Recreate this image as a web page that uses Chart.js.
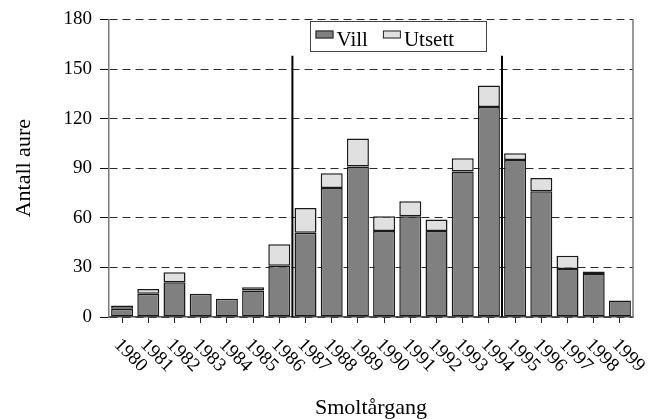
<!DOCTYPE html>
<html>
<head>
<meta charset="utf-8">
<script src="https://cdn.jsdelivr.net/npm/chart.js@4/dist/chart.umd.min.js"></script>
<style>
  html, body { margin: 0; padding: 0; background: #ffffff; }
  #wrap { width: 650px; height: 419px; position: relative; }
</style>
</head>
<body>
<div id="wrap"><canvas id="c"></canvas></div>
<script>
// Smolt year classes
const years = ['1980','1981','1982','1983','1984','1985','1986','1987','1988','1989',
               '1990','1991','1992','1993','1994','1995','1996','1997','1998','1999'];
// Wild trout per year class
const vill = [5, 14, 21, 14, 11, 16, 31, 51, 78, 91, 52, 61, 52, 88, 127, 95, 76, 29, 26, 10];
// Stocked trout per year class
const utsett = [2, 3, 6, null, null, 2, 13, 15, 9, 17, 9, 9, 7, 8, 13, 4, 8, 8, 1.5, null];
// Period boundaries: a divider is drawn between each pair of year classes
const periodBreaks = [['1986', '1987'], ['1994', '1995']];
const breakTop = 158;
// Value axis range
const yMin = 0, yMax = 180, yStep = 30;

const serif = '"Liberation Serif", "DejaVu Serif", serif';

// Legend box drawn inside the plot, near the top
const boxLegend = {
  id: 'boxLegend',
  afterDraw(chart) {
    const ctx = chart.ctx;
    const items = chart.data.datasets;
    ctx.save();
    const x0 = 310.5, y0 = 21.5, w = 176, h = 30;
    ctx.fillStyle = '#ffffff';
    ctx.fillRect(x0, y0, w, h);
    ctx.strokeStyle = '#444';
    ctx.lineWidth = 1;
    ctx.strokeRect(x0, y0, w, h);
    ctx.font = '21px ' + serif;
    ctx.textBaseline = 'alphabetic';
    ctx.textAlign = 'left';
    let x = x0 + 5;
    items.forEach((ds) => {
      ctx.fillStyle = ds.backgroundColor;
      ctx.fillRect(x, y0 + 9, 18, 8);
      ctx.strokeStyle = '#222';
      ctx.lineWidth = 1;
      ctx.strokeRect(x + 0.5, y0 + 9.5, 17, 7);
      ctx.fillStyle = '#000';
      ctx.fillText(ds.label, x + 21, y0 + 24);
      x += 21 + ctx.measureText(ds.label).width + 15;
    });
    ctx.restore();
  }
};

// Diagonal year labels under the axis, right border and period dividers
const decorations = {
  id: 'decorations',
  afterDatasetsDraw(chart) {
    const ctx = chart.ctx;
    const xs = chart.scales.x, ys = chart.scales.y;
    const area = chart.chartArea;
    ctx.save();
    // right frame line
    ctx.strokeStyle = '#777';
    ctx.lineWidth = 1.5;
    ctx.beginPath();
    ctx.moveTo(area.right, area.top);
    ctx.lineTo(area.right, area.bottom);
    ctx.stroke();
    // period dividers
    ctx.strokeStyle = '#000';
    ctx.lineWidth = 2;
    periodBreaks.forEach(([a, b]) => {
      const px = (xs.getPixelForValue(years.indexOf(a)) + xs.getPixelForValue(years.indexOf(b))) / 2;
      ctx.beginPath();
      ctx.moveTo(px, ys.getPixelForValue(breakTop));
      ctx.lineTo(px, ys.getPixelForValue(0));
      ctx.stroke();
    });
    ctx.restore();
  },
  afterDraw(chart) {
    const ctx = chart.ctx;
    const xs = chart.scales.x;
    const area = chart.chartArea;
    ctx.save();
    ctx.fillStyle = '#000';
    ctx.font = '19px ' + serif;
    ctx.textAlign = 'left';
    ctx.textBaseline = 'middle';
    years.forEach((label, i) => {
      const px = xs.getPixelForValue(i);
      ctx.save();
      ctx.translate(px - 5, area.bottom + 25);
      ctx.rotate(Math.PI / 4);
      ctx.fillText(label, 0, 0);
      ctx.restore();
    });
    ctx.restore();
  }
};

new Chart(document.getElementById('c'), {
  type: 'bar',
  data: {
    labels: years,
    datasets: [
      {
        label: 'Vill',
        data: vill,
        backgroundColor: '#808080',
        borderColor: '#1a1a1a',
        borderWidth: 1.5,
        borderSkipped: false,
        barPercentage: 0.84,
        categoryPercentage: 1.0
      },
      {
        label: 'Utsett',
        data: utsett,
        backgroundColor: '#e0e0e0',
        borderColor: '#1a1a1a',
        borderWidth: 1.5,
        borderSkipped: false,
        barPercentage: 0.84,
        categoryPercentage: 1.0
      }
    ]
  },
  options: {
    responsive: true,
    maintainAspectRatio: false,
    animation: false,
    layout: { padding: { top: 16, right: 17, left: 0, bottom: 0 } },
    plugins: {
      legend: { display: false },
      tooltip: { enabled: false }
    },
    scales: {
      x: {
        stacked: true,
        afterFit(scale) { scale.height = 102; },
        grid: {
          display: true,
          drawOnChartArea: false,
          offset: false,
          tickLength: 6,
          tickColor: '#222',
          lineWidth: 1
        },
        border: { display: true, color: '#555', width: 1.5 },
        ticks: { display: false },
        title: {
          display: true,
          text: 'Smoltårgang',
          color: '#000',
          font: { family: serif, size: 22, lineHeight: 1 },
          padding: { top: 0, bottom: 0 }
        }
      },
      y: {
        stacked: true,
        min: yMin,
        max: yMax,
        afterFit(scale) { scale.width = 109; },
        grid: {
          display: true,
          drawOnChartArea: true,
          color: '#2a2a2a',
          lineWidth: 1,
          tickLength: 9,
          tickColor: '#111',
          tickBorderDash: []
        },
        border: { display: true, color: '#7a7a7a', width: 1.5, dash: [8, 5] },
        ticks: {
          stepSize: yStep,
          color: '#000',
          padding: 8,
          font: { family: serif, size: 19 }
        },
        title: {
          display: true,
          text: 'Antall aure',
          color: '#000',
          font: { family: serif, size: 22 },
          padding: { top: 11, bottom: 0 }
        }
      }
    }
  },
  plugins: [decorations, boxLegend]
});
</script>
</body>
</html>
